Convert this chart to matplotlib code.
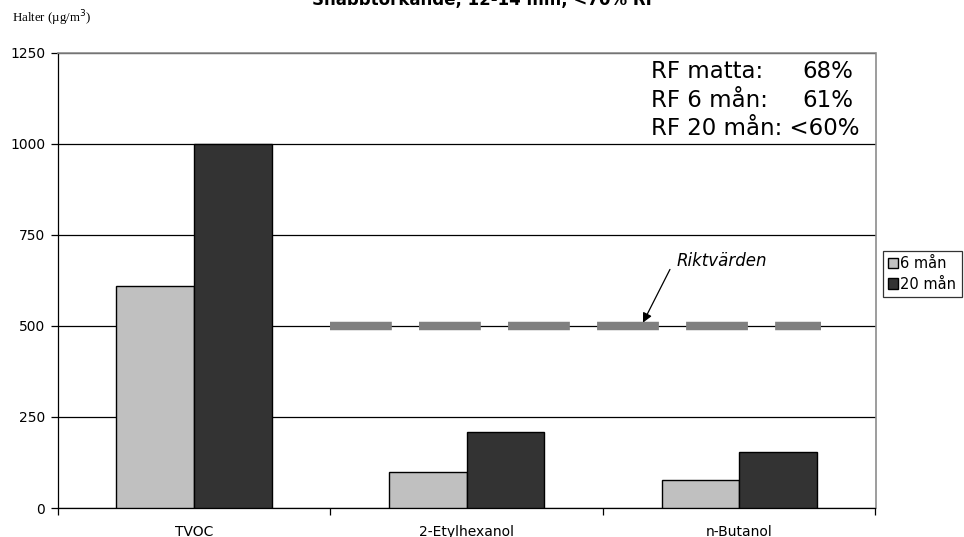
import matplotlib
matplotlib.use("Agg")
import matplotlib.pyplot as plt
import numpy as np

plt.rcParams['font.family'] = ['DejaVu Sans']
plt.rcParams['lines.scale_dashes'] = False

# Data
categories = ["TVOC", "2-Etylhexanol", "n-Butanol"]
series_names = ["6 mån", "20 mån"]
values_6 = [610, 100, 78]
values_20 = [1000, 210, 155]
riktvarde = 500
riktvarde_span = [0.5, 2.3]
rf_labels = ["RF matta:", "RF 6 mån:"]
rf_values = ["68%", "61%"]
rf_last = "RF 20 mån: <60%"
yticks = [0, 250, 500, 750, 1000, 1250]

W, H = 964, 537
fig = plt.figure(figsize=(W / 100, H / 100), dpi=100)
left, right, top, bottom = 57.7, 875.5, 52.7, 508.0
ax = fig.add_axes([left / W, 1 - bottom / H, (right - left) / W, (bottom - top) / H])

x = np.arange(len(categories))
bw = 0.285
ax.bar(x - bw / 2, values_6, bw, color="#c0c0c0", edgecolor="black", linewidth=1.0,
       label=series_names[0], zorder=3)
ax.bar(x + bw / 2, values_20, bw, color="#333333", edgecolor="black", linewidth=1.0,
       label=series_names[1], zorder=3)

ax.set_xlim(-0.5, len(categories) - 0.5)
ax.set_ylim(0, 1250)
ax.set_yticks(yticks)
ax.set_yticklabels([str(v) for v in yticks], fontsize=10)
ax.yaxis.grid(True, color="black", linewidth=0.9, zorder=0)
ax.set_axisbelow(True)

# category labels centred, tick marks on the boundaries
ax.set_xticks(np.arange(-0.5, len(categories), 1.0))
ax.set_xticklabels([])
ax.set_xticks(x, minor=True)
ax.set_xticklabels(categories, minor=True, fontsize=10)
ax.tick_params(axis="x", which="minor", length=0, pad=12)
ax.tick_params(axis="x", which="major", length=5, width=0.9, direction="out")
ax.tick_params(axis="y", length=5, width=0.9, direction="out", pad=4)

for s in ["left", "bottom"]:
    ax.spines[s].set_color("black")
    ax.spines[s].set_linewidth(0.9)
for s in ["top", "right"]:
    ax.spines[s].set_color("#8c8c8c")
    ax.spines[s].set_linewidth(1.2)

# Reference value line
ax.plot(riktvarde_span, [riktvarde, riktvarde], color="#808080", linewidth=6.1,
        dashes=(44.5, 19.6), solid_capstyle="butt", dash_capstyle="butt", zorder=4)
ax.annotate("", xy=(1.647, 509), xytext=(1.746, 655),
            arrowprops=dict(arrowstyle="-|>", color="black", lw=0.9,
                            mutation_scale=14, shrinkA=0, shrinkB=0),
            zorder=5)
ax.text(1.937, 679, "Riktvärden", fontsize=12, style="italic", ha="center", va="center")

# RF info
ys = [0.944, 0.881]
for lab, val, yy in zip(rf_labels, rf_values, ys):
    ax.text(0.725, yy, lab, transform=ax.transAxes, fontsize=16.5, va="baseline", ha="left")
    ax.text(0.911, yy, val, transform=ax.transAxes, fontsize=16.5, va="baseline", ha="left")
ax.text(0.725, 0.819, rf_last, transform=ax.transAxes, fontsize=16.5, va="baseline", ha="left")

# Legend
leg = ax.legend(loc="center left", bbox_to_anchor=(883 / W, 1 - 274 / H),
                bbox_transform=fig.transFigure, frameon=True, fancybox=False,
                edgecolor="black", fontsize=10.5, handlelength=0.7, handleheight=0.7,
                handletextpad=0.15, borderpad=0.35, labelspacing=0.35,
                borderaxespad=0)
leg.get_frame().set_linewidth(0.9)

# Titles
fig.text(484 / W, 1 - 5 / H, "Snabbtorkande, 12-14 mm, <70% RF", fontsize=12,
         fontweight="bold", ha="center", va="baseline")
fig.text(12 / W, 1 - 22 / H, "Halter (µg/m$^3$)", fontsize=9.3,
         family=["Liberation Serif", "DejaVu Serif"], ha="left", va="baseline")

fig.savefig("out.png", dpi=100)
